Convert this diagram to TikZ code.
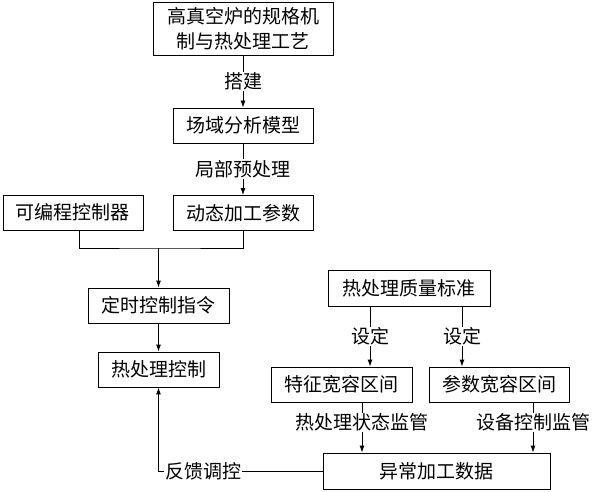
\documentclass[tikz,border=0pt]{standalone}
\usepackage{fontspec}
\newfontfamily\cjk{Noto Sans CJK SC}
\usetikzlibrary{arrows.meta}

\begin{document}
\begin{tikzpicture}
	[x=1pt,y=-1pt,line width=.9pt,>={Latex[length=7pt,width=5pt]},
	main node/.style={shape=rectangle,draw,fill=white,inner sep=0pt,minimum height=35pt,font=\cjk\fontsize{19}{25}\selectfont},
	lbl/.style={fill=white,inner sep=1pt,font=\cjk\fontsize{19}{25}\selectfont}]
	\useasboundingbox (0,0) rectangle (595,492);
	\node [main node,minimum width=180pt,minimum height=53pt,align=center] (1) at (243,28.5) {高真空炉的规格机\\制与热处理工艺};
	\node [main node,minimum width=140pt] (2) at (243,125.5) {场域分析模型};
	\node [main node,minimum width=140pt] (3) at (243,213) {动态加工参数};
	\node [main node,minimum width=140pt] (4) at (73,212.5) {可编程控制器};
	\node [main node,minimum width=141pt] (5) at (158.5,305.5) {定时控制指令};
	\node [main node,minimum width=121pt] (6) at (158.5,369.5) {热处理控制};
	\node [main node,minimum width=162pt,minimum height=36pt] (7) at (409,288) {热处理质量标准};
	\node [main node,minimum width=141pt] (8) at (341.5,384.5) {特征宽容区间};
	\node [main node,minimum width=140pt] (9) at (499,384.5) {参数宽容区间};
	\node [main node,minimum width=227pt,minimum height=36pt] (10) at (436.5,471) {异常加工数据};
	\coordinate (j) at (158.5,248);
	
	\path[->]
	(1) edge node [lbl] {搭建} (2)
	(2) edge node [lbl] {局部预处理} (3)
	([xshift=-39pt]7.south) edge node [lbl] {设定} ([xshift=-39pt]7.south |- 8.north)
	([xshift=53pt]7.south) edge node [lbl] {设定} ([xshift=53pt]7.south |- 9.north)
	([xshift=20.5pt]8.south) edge node [lbl,pos=.4] {热处理状态监管} ([xshift=20.5pt]8.south |- 10.north)
	([xshift=34pt]9.south) edge node [lbl,pos=.4] {设备控制监管} ([xshift=34pt]9.south |- 10.north)
	(j) edge (5)
	(5) edge (6)
	;
	
	\draw ([xshift=6pt]4.south) |- (j) -| (3.south);
	\draw[->] (10.west) -| node [lbl,pos=.363] {反馈调控} (6.south);
	
	\end{tikzpicture}
\end{document}
